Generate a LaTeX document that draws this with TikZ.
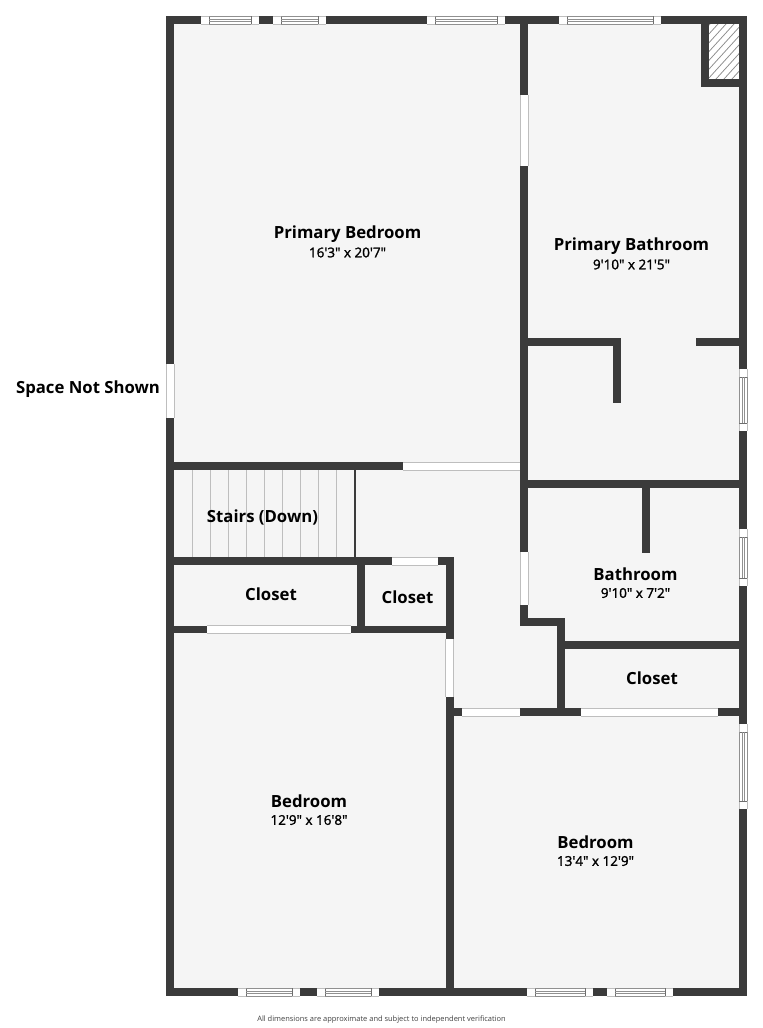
\documentclass[tikz,border=0pt]{standalone}
\usepackage{fontspec}
\setmainfont{Open Sans}
\newfontfamily\semifont[FakeBold=1.6]{Open Sans}
\definecolor{wallc}{HTML}{3B3B3B}
\definecolor{floorc}{HTML}{F5F5F5}
\definecolor{edgec}{HTML}{BEBEBE}
\definecolor{framec}{HTML}{6E6E6E}
\definecolor{panelc}{HTML}{909090}
\tikzset{
 wall/.style={fill=wallc,draw=none},
 opening/.style={fill=white,draw=none},
 roomname/.style={font=\bfseries\fontsize{12.55}{14}\selectfont,text=black,inner sep=0pt,anchor=center},
 roomsize/.style={font=\semifont\fontsize{10.1}{12}\selectfont,text=black,inner sep=0pt,anchor=center},
 riser/.style={draw=edgec,line width=0.75pt},
}
% horizontal window: x1 x2 ytop
\newcommand{\hwin}[3]{%
 \fill[white] (#1,#3) rectangle (#2,#3+8);
 \draw[edgec,line width=0.4pt] (#1,#3) -- (#2,#3) (#1,#3+8) -- (#2,#3+8);
 \draw[framec,line width=0.5pt] (#1+8,#3) -- (#1+8,#3+8) (#2-8,#3) -- (#2-8,#3+8);
 \draw[panelc,line width=0.4pt] (#1+8,#3) -- (#2-8,#3) (#1+8,#3+8) -- (#2-8,#3+8);
 \draw[panelc,line width=0.4pt] (#1+8,#3+3) -- (#2-8,#3+3) (#1+8,#3+5.2) -- (#2-8,#3+5.2);
}
\newcommand{\vwin}[3]{%
 \fill[white] (#3,#1) rectangle (#3+8,#2);
 \draw[edgec,line width=0.4pt] (#3,#1) -- (#3,#2) (#3+8,#1) -- (#3+8,#2);
 \draw[framec,line width=0.5pt] (#3,#1+8) -- (#3+8,#1+8) (#3,#2-8) -- (#3+8,#2-8);
 \draw[panelc,line width=0.4pt] (#3,#1+8) -- (#3,#2-8) (#3+8,#1+8) -- (#3+8,#2-8);
 \draw[panelc,line width=0.4pt] (#3+3,#1+8) -- (#3+3,#2-8) (#3+5.2,#1+8) -- (#3+5.2,#2-8);
}
\newcommand{\hgap}[3]{\fill[opening] (#1,#3) rectangle (#2,#3+8);
 \draw[edgec,line width=0.4pt] (#1,#3) -- (#2,#3) (#1,#3+8) -- (#2,#3+8);}
\newcommand{\vgap}[3]{\fill[opening] (#3,#1) rectangle (#3+8,#2);
 \draw[edgec,line width=0.4pt] (#3,#1) -- (#3,#2) (#3+8,#1) -- (#3+8,#2);}
\begin{document}
\begin{tikzpicture}[x=0.75pt,y=-0.75pt]
\useasboundingbox (0,0) rectangle (763,1028);
\fill[white] (0,0) rectangle (763,1028);
% floor
\fill[floorc] (170,20) rectangle (743,992);
% chimney hatch
\fill[white] (705,24) rectangle (740,83);
\begin{scope}
\clip (709,24) rectangle (740,79);
\foreach \k in {-48,-40,...,56}{\draw[framec!80,line width=0.55pt] (700+\k,79) -- (750+\k,24);}
\end{scope}
% stair risers
\foreach \x in {192,210,228,246,264,282,300,318,336}{\draw[riser] (\x,470) -- (\x,558);}
\draw[wallc,line width=0.8pt] (355,470) -- (355,558);
% walls
\fill[wall] (166,16) rectangle (174,996);
\fill[wall] (166,16) rectangle (747,24);
\fill[wall] (739,16) rectangle (747,996);
\fill[wall] (166,988) rectangle (747,996);
\fill[wall] (520,16) rectangle (528,626);
\fill[wall] (701,24) rectangle (709,87);
\fill[wall] (701,79) rectangle (747,87);
\fill[wall] (520,338) rectangle (621,346);
\fill[wall] (613,338) rectangle (621,403);
\fill[wall] (696,338) rectangle (747,346);
\fill[wall] (520,480) rectangle (747,488);
\fill[wall] (642,488) rectangle (650,553);
\fill[wall] (166,462) rectangle (520,470);
\fill[wall] (166,557) rectangle (453,565);
\fill[wall] (357,565) rectangle (365,626);
\fill[wall] (166,626) rectangle (453,633);
\fill[wall] (445.5,557) rectangle (453.5,996);
\fill[wall] (446,708) rectangle (747,716);
\fill[wall] (520,618) rectangle (565,626);
\fill[wall] (557,618) rectangle (565,716);
\fill[wall] (557,641) rectangle (747,649);
% openings
\vgap{364}{418}{166}
\vgap{95}{166}{520}
\vgap{552}{605}{520}
\vgap{639}{697}{445.5}
\hgap{403}{520}{462}
\hgap{392}{438}{557}
\hgap{207}{351}{625.5}
\hgap{462}{520}{708}
\hgap{581}{718}{708}
% windows
\hwin{201}{259}{16}
\hwin{273}{326}{16}
\hwin{427}{505}{16}
\hwin{559}{661}{16}
\vwin{369}{431}{739}
\vwin{529}{586}{739}
\vwin{724}{809}{739}
\hwin{238}{300}{988}
\hwin{317}{379}{988}
\hwin{527}{593}{988}
\hwin{607}{673}{988}
% labels
\node[roomname] (pb) at (347.5,234) {Primary Bedroom};
\node[roomsize] (pbs) at (347.5,252.5) {16'3" x 20'7"};
\node[roomname] (pba) at (631.5,246) {Primary Bathroom};
\node[roomsize] (pbas) at (631.5,264.5) {9'10" x 21'5"};
\node[roomname] (sds) at (262.5,517) {Stairs (Down)};
\node[roomname] (c1) at (271,594.5) {Closet};
\node[roomname] (c2) at (407.5,597.5) {Closet};
\node[roomname] (c3) at (652,678.5) {Closet};
\node[roomname] (bath) at (635.5,574.5) {Bathroom};
\node[roomsize] (baths) at (635.5,593) {9'10" x 7'2"};
\node[roomname] (b1) at (309,801.5) {Bedroom};
\node[roomsize] (b1s) at (309,820) {12'9" x 16'8"};
\node[roomname] (b2) at (595.5,842.5) {Bedroom};
\node[roomsize] (b2s) at (595.5,861) {13'4" x 12'9"};
\node[roomname] (sns) at (88,389) {Space Not Shown};
\node[font=\fontsize{5.6}{8}\selectfont,text=black!75,inner sep=0pt] (note) at (381.5,1020) {All dimensions are approximate and subject to independent verification};
\end{tikzpicture}
\end{document}
